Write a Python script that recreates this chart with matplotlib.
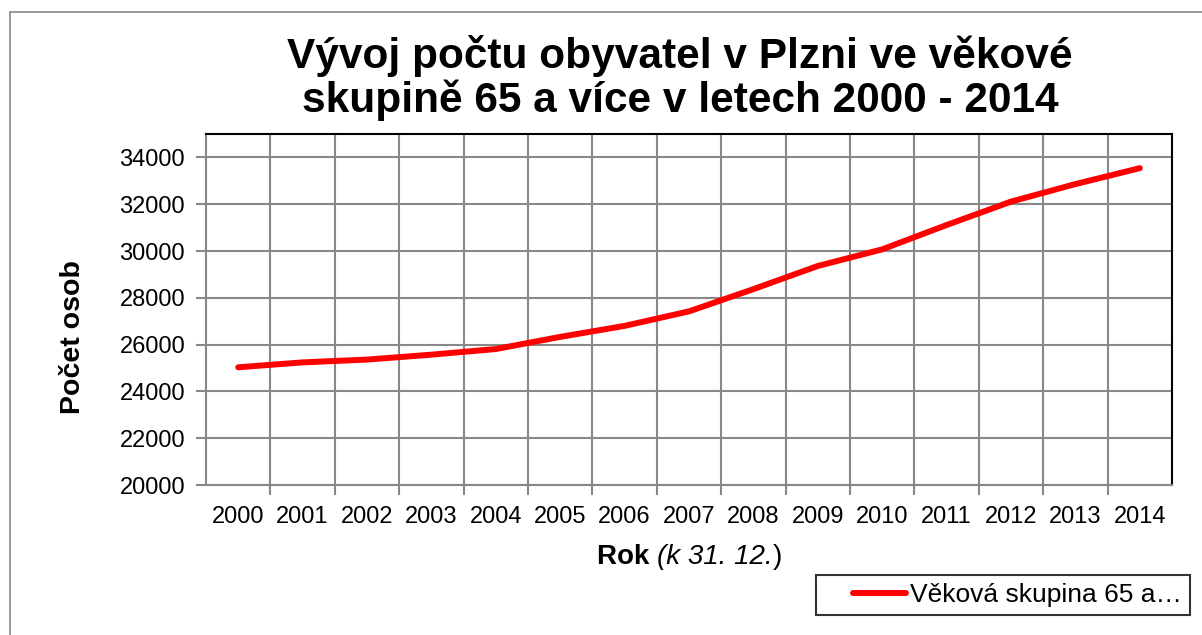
import matplotlib
matplotlib.use('Agg')
import matplotlib.pyplot as plt
from matplotlib.patches import Rectangle
from matplotlib.legend_handler import HandlerLine2D

years = [str(y) for y in range(2000, 2015)]
pocet = [25030, 25240, 25360, 25570, 25810, 26330, 26800, 27420,
         28370, 29360, 30070, 31110, 32110, 32860, 33540]
yticks = [20000, 22000, 24000, 26000, 28000, 30000, 32000, 34000]

plt.rcParams['font.family'] = ['Liberation Sans', 'DejaVu Sans']

fig = plt.figure(figsize=(12.02, 6.35), dpi=100)
# outer chart border
fig.add_artist(Rectangle((10/1202, -0.01), 1.2, 1 - 12/635 + 0.01, transform=fig.transFigure,
                         fill=False, edgecolor='#888888', linewidth=1.2))

ax = fig.add_axes([206/1202, 1 - 485/635, (1172-206)/1202, (485-134)/635])
x = list(range(len(years)))
ax.plot(x, pocet, color='#ff0000', linewidth=4.3, solid_capstyle='round',
        solid_joinstyle='round', label='Věková skupina 65 a…', zorder=3)

ax.set_xlim(-0.5, len(years) - 0.5)
ax.set_ylim(20000, 35000)
ax.set_yticks(yticks)
ax.set_xticks(x)
ax.set_xticklabels(years)
ax.set_xticks([i + 0.5 for i in range(len(years) - 1)], minor=True)
ax.tick_params(axis='x', which='major', length=0, pad=15, labelsize=17)
ax.tick_params(axis='x', which='minor', length=7, width=1.5, color='#888888', direction='out')
ax.tick_params(axis='y', length=7, width=1.5, color='#888888', labelsize=17, pad=8)
ax.grid(True, axis='y', which='major', color='#888888', linewidth=1.5)
ax.grid(True, axis='x', which='minor', color='#888888', linewidth=1.5)
ax.set_axisbelow(True)
for s in ['left', 'bottom']:
    ax.spines[s].set_color('#888888')
    ax.spines[s].set_linewidth(1.5)
for s in ['top', 'right']:
    ax.spines[s].set_color('black')
    ax.spines[s].set_linewidth(1.5)

# y label
fig.text(73/1202, 1 - 337/635, 'Počet osob', fontsize=20.5, fontweight='bold',
         rotation=90, ha='center', va='center')

# x label: bold + italic + regular pieces
t1 = fig.text(597/1202, 1 - 570/635, 'Rok ', fontsize=20, fontweight='bold',
              ha='left', va='bottom')
t2 = ax.annotate('(k 31. 12.', xy=(1, 0), xycoords=t1, fontsize=20, fontstyle='italic',
                 ha='left', va='bottom', annotation_clip=False)
ax.annotate(')', xy=(1, 0), xycoords=t2, fontsize=20, ha='left', va='bottom',
            annotation_clip=False)

fig.text(680/1202, 1 - 78/635,
         'Vývoj počtu obyvatel v Plzni ve věkové\nskupině 65 a více v letech 2000 - 2014',
         fontsize=30.5, fontweight='bold', ha='center', va='center', linespacing=1.1)

leg = fig.legend(loc='center', bbox_to_anchor=(1003/1202, 1 - 595/635), fontsize=19,
                 frameon=True, fancybox=False, edgecolor='black', handlelength=3.1,
                 handletextpad=0.15, borderpad=0.3,
                 handler_map={matplotlib.lines.Line2D: HandlerLine2D(xpad=1.1)})
leg.get_frame().set_linewidth(1.5)

plt.savefig('out.png', dpi=100)
